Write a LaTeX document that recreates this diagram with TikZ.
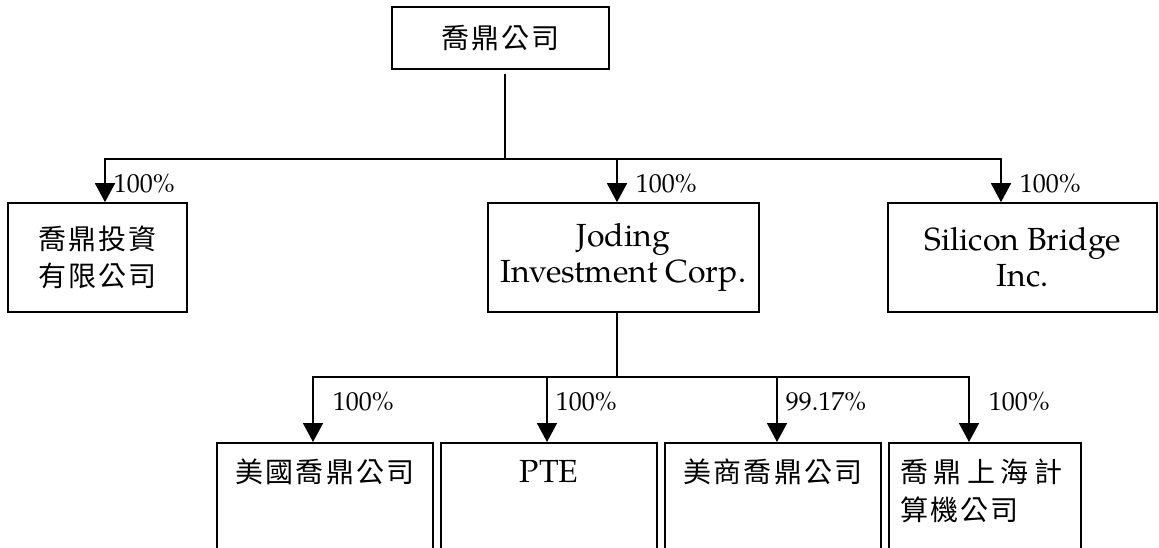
\documentclass[tikz,border=0pt]{standalone}
\usepackage{fontspec}
\setmainfont{TeX Gyre Pagella}
\newfontfamily\cjk[LetterSpace=8]{Noto Sans CJK TC}
\newfontfamily\cjkwide[LetterSpace=20]{Noto Sans CJK TC}
\usetikzlibrary{arrows.meta}
\newcommand\boxfont{\fontsize{32}{36}\selectfont}
\newcommand\cjkfont{\cjk\fontsize{28}{37}\selectfont}
\newcommand\pctfont{\fontsize{26}{30}\selectfont}
\tikzset{
  box/.style={draw, line width=1.6pt, inner sep=0pt, align=center, font=\boxfont},
  cjkbox/.style={box, font=\cjkfont},
  subbox/.style={box, anchor=north, minimum width=216pt, text height=40pt, text depth=120pt},
  link/.style={line width=1.6pt},
  arr/.style={line width=1.6pt, -{Triangle[width=20pt,length=19pt]}},
  pct/.style={font=\pctfont, inner sep=0pt, anchor=base west}
}

\begin{document}
\begin{tikzpicture}[x=1pt, y=-1pt]
\useasboundingbox (0,0) rectangle (1159,548);
\clip (0,0) rectangle (1159,548);
\node[cjkbox, minimum width=217pt, minimum height=62pt] (corp) at (500.5,38) {喬鼎公司};
\node[cjkbox, minimum width=179pt, minimum height=109pt] (inv) at (97.5,257.5) {喬鼎投資\\有限公司};
\node[box, minimum width=271pt, minimum height=109pt] (jic) at (623.5,257.5) {Joding\\Investment Corp.};
\node[box, minimum width=269pt, minimum height=109pt] (sib) at (1022.5,257.5) {Silicon Bridge\\Inc.};
\node[subbox, font=\cjkfont] (usa) at (325,442) {美國喬鼎公司};
\node[subbox] (pte) at (549,442) {PTE};
\node[subbox, font=\cjkfont] (usb) at (773,442) {美商喬鼎公司};
\node[subbox, font={\cjk\fontsize{28}{38}\selectfont}, minimum width=192pt, text width=170pt, align=left] (sha) at (985,442) {{\cjkwide 喬鼎上海計}\\算機公司};
\coordinate (busA) at (505,159);
\coordinate (busB) at (617,377);
\draw[link] ([xshift=4.5pt,yshift=-4pt]corp.south) -- (busA);
\draw[arr] (busA) -| ([xshift=7.5pt]inv.north) node[pct, xshift=8pt, yshift=10pt] {100\%};
\draw[arr] (busA) -| ([xshift=-6.5pt]jic.north) node[pct, xshift=18pt, yshift=10pt] {100\%};
\draw[arr] (busA) -| ([xshift=-21.5pt]sib.north) node[pct, xshift=18pt, yshift=10pt] {100\%};
\draw[link] ([xshift=-6.5pt]jic.south) -- (busB);
\draw[arr] (busB) -| ([xshift=-12pt]usa.north) node[pct, xshift=19pt, yshift=32pt] {100\%};
\draw[arr] (busB) -| ([xshift=-2pt]pte.north) node[pct, xshift=8pt, yshift=32pt] {100\%};
\draw[arr] (busB) -| ([xshift=4pt]usb.north) node[pct, xshift=8pt, yshift=32pt] {99.17\%};
\draw[arr] (busB) -| ([xshift=-16pt]sha.north) node[pct, xshift=19pt, yshift=32pt] {100\%};
\end{tikzpicture}
\end{document}
